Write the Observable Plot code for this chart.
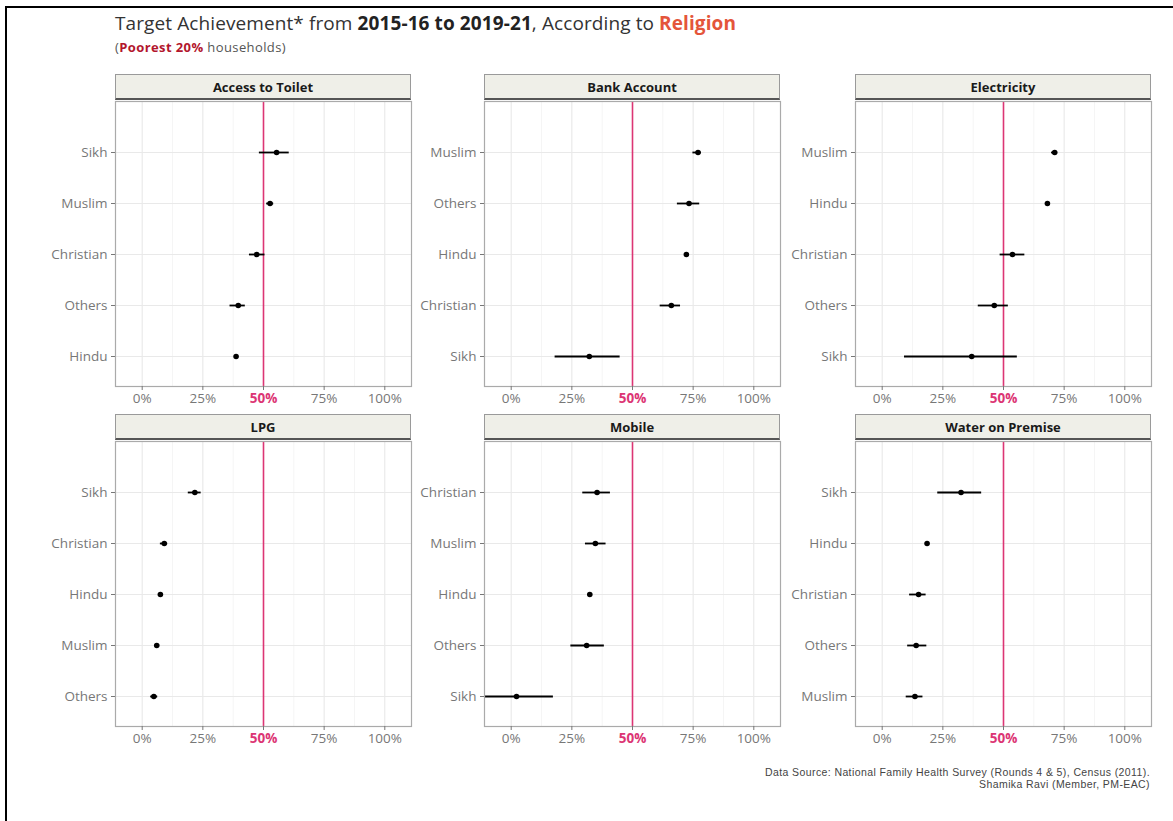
<!DOCTYPE html>
<html><head><meta charset="utf-8">
<script src="https://cdn.jsdelivr.net/npm/d3@7"></script>
<script src="https://cdn.jsdelivr.net/npm/@observablehq/plot@0.6"></script>
<style>
body{margin:0;background:#fff;width:1173px;height:821px;overflow:hidden;position:relative;font-family:"Open Sans",sans-serif}
#frame{position:absolute;left:5px;top:6px;width:1168px;height:815px;border-top:2px solid #000;border-left:2px solid #000;box-sizing:border-box}
#title{position:absolute;left:115px;top:10px;font-size:19px;color:#333;white-space:nowrap;letter-spacing:0.1px}
#title b{color:#222}
#title .rel{color:#e4553a}
#subtitle{position:absolute;left:115px;top:38px;font-size:13px;color:#555;white-space:nowrap;letter-spacing:0.4px}
#subtitle b{color:#b3162d}
.strip{position:absolute;height:26px;box-sizing:border-box;background:#efefe8;border:1px solid #9a9a9a;border-bottom:2px solid #555;font-weight:bold;font-size:13px;color:#1a1a1a;text-align:center;line-height:24px}
.panel{position:absolute}
#caption{position:absolute;right:23px;top:766px;font-family:"Liberation Sans",Arial,sans-serif;font-size:10.5px;letter-spacing:0.4px;line-height:12px;color:#444;text-align:right}
</style>
</head><body>
<div id="frame"></div>
<div id="title">Target Achievement* from <b>2015-16 to 2019-21</b>, According to <b class="rel">Religion</b></div>
<div id="subtitle">(<b>Poorest 20%</b> households)</div>
<div id="caption">Data Source: National Family Health Survey (Rounds 4 &amp; 5), Census (2011).<br>Shamika Ravi (Member, PM-EAC)</div>
<script>
// ---- data ----
const panelTitles = ["Access to Toilet", "Bank Account", "Electricity", "LPG", "Mobile", "Water on Premise"];

const toiletGroups = ["Sikh", "Muslim", "Christian", "Others", "Hindu"];
const toiletEst = [0.554, 0.527, 0.472, 0.396, 0.387];
const toiletLo  = [0.483, 0.513, 0.442, 0.362, 0.381];
const toiletHi  = [0.606, 0.542, 0.506, 0.425, 0.393];

const bankGroups = ["Muslim", "Others", "Hindu", "Christian", "Sikh"];
const bankEst = [0.770, 0.733, 0.722, 0.660, 0.322];
const bankLo  = [0.749, 0.685, 0.716, 0.614, 0.181];
const bankHi  = [0.784, 0.777, 0.728, 0.698, 0.449];

const elecGroups = ["Muslim", "Hindu", "Christian", "Others", "Sikh"];
const elecEst = [0.711, 0.681, 0.537, 0.462, 0.369];
const elecLo  = [0.698, 0.676, 0.486, 0.396, 0.092];
const elecHi  = [0.723, 0.686, 0.588, 0.520, 0.557];

const lpgGroups = ["Sikh", "Christian", "Hindu", "Muslim", "Others"];
const lpgEst = [0.217, 0.091, 0.075, 0.060, 0.048];
const lpgLo  = [0.190, 0.075, 0.070, 0.053, 0.035];
const lpgHi  = [0.243, 0.105, 0.080, 0.067, 0.064];

const mobileGroups = ["Christian", "Muslim", "Hindu", "Others", "Sikh"];
const mobileEst = [0.354, 0.347, 0.324, 0.311, 0.022];
const mobileLo  = [0.295, 0.306, 0.318, 0.246, -0.130];
const mobileHi  = [0.409, 0.391, 0.330, 0.384, 0.174];

const waterGroups = ["Sikh", "Hindu", "Christian", "Others", "Muslim"];
const waterEst = [0.325, 0.185, 0.150, 0.140, 0.135];
const waterLo  = [0.229, 0.180, 0.113, 0.105, 0.099];
const waterHi  = [0.410, 0.190, 0.181, 0.184, 0.168];

const xTicks = [0, 0.25, 0.5, 0.75, 1];
const xMinor = [0.125, 0.375, 0.625, 0.875];
const targetLine = [0.5];

// ---- layout ----
const pink = "#dc3574";
const panelsData = [
  [toiletGroups, toiletEst, toiletLo, toiletHi],
  [bankGroups, bankEst, bankLo, bankHi],
  [elecGroups, elecEst, elecLo, elecHi],
  [lpgGroups, lpgEst, lpgLo, lpgHi],
  [mobileGroups, mobileEst, mobileLo, mobileHi],
  [waterGroups, waterEst, waterLo, waterHi]
];
const colLeft = [115, 484, 855];
const rowTop = [101, 441];
const panelW = 296, panelH = 285, mLeft = 72, mBottom = 30;
const fmt = d => Math.round(d * 100) + "%";

panelsData.forEach(([groups, est, lo, hi], i) => {
  const col = i % 3, row = Math.floor(i / 3);
  const rows = groups.map((g, k) => ({religion: g, est: est[k], lo: lo[k], hi: hi[k]}));
  const strip = document.createElement("div");
  strip.className = "strip";
  strip.style.left = colLeft[col] + "px";
  strip.style.top = (rowTop[row] - 27) + "px";
  strip.style.width = panelW + "px";
  strip.textContent = panelTitles[i];
  document.body.appendChild(strip);

  const chart = Plot.plot({
    width: mLeft + panelW,
    height: panelH + mBottom,
    marginLeft: mLeft, marginRight: 0, marginTop: 0, marginBottom: mBottom,
    style: {background: "transparent", overflow: "visible", fontFamily: "Open Sans, sans-serif"},
    x: {domain: [-0.11, 1.11]},
    y: {type: "point", domain: groups, range: [50, 255], padding: 0},
    marks: [
      Plot.gridX(xMinor, {stroke: "#f3f3f3", strokeOpacity: 1, strokeWidth: 0.8}),
      Plot.gridX(xTicks, {stroke: "#e6e6e6", strokeOpacity: 1, strokeWidth: 1}),
      Plot.gridY({stroke: "#e9e9e9", strokeOpacity: 1}),
      Plot.ruleX(targetLine, {stroke: pink, strokeWidth: 1.6}),
      Plot.ruleY(rows, {y: "religion", x1: "lo", x2: "hi", stroke: "#000", strokeWidth: 1.8, clip: true}),
      Plot.dot(rows, {x: "est", y: "religion", r: 2.8, fill: "#000", stroke: null}),
      Plot.frame({stroke: "#aaaaaa", strokeWidth: 1.2}),
      Plot.axisY({tickSize: 4, tickPadding: 4, fontSize: 13.5, color: "#777", label: null}),
      Plot.axisX(xTicks, {tickSize: 4, tickPadding: 3, fontSize: 13.5, color: "#777", label: null,
        tickFormat: d => d === 0.5 ? "" : fmt(d)}),
      Plot.axisX(targetLine, {tickSize: 0, tickPadding: 7, fontSize: 13.5, color: pink, fontWeight: "bold",
        label: null, tickFormat: fmt})
    ]
  });
  chart.classList.add("panel");
  chart.style.left = (colLeft[col] - mLeft) + "px";
  chart.style.top = rowTop[row] + "px";
  document.body.appendChild(chart);
});
</script>
</body></html>
